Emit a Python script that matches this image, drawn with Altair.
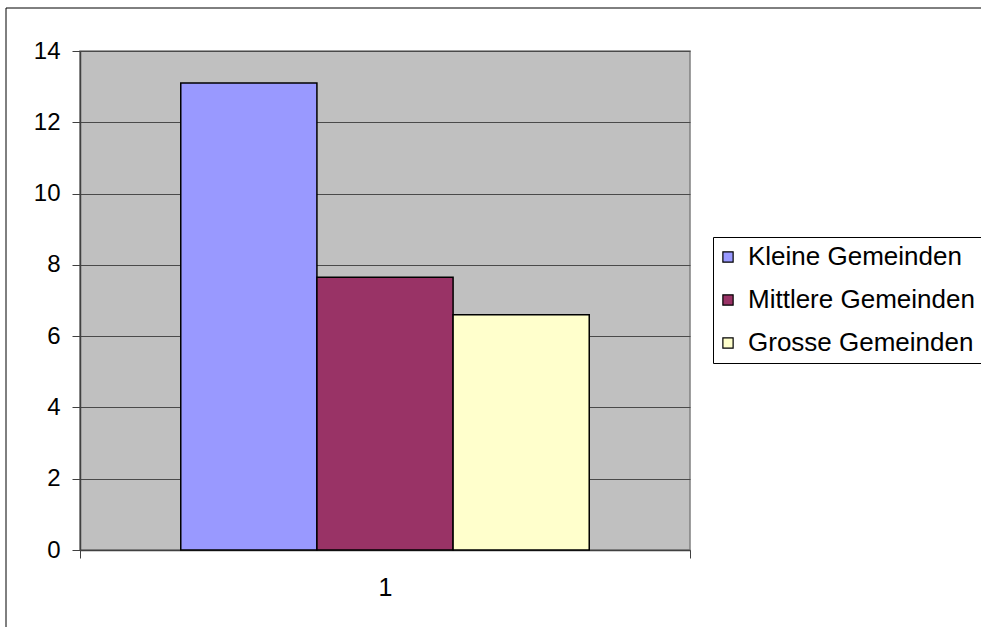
import altair as alt
import pandas as pd

# Chart data
groups = ["Kleine Gemeinden", "Mittlere Gemeinden", "Grosse Gemeinden"]
values = [13.1, 7.65, 6.6]
category = ["1", "1", "1"]
colors = ["#9999FF", "#993366", "#FFFFCC"]
y_ticks = [0, 2, 4, 6, 8, 10, 12, 14]

df = pd.DataFrame({"Kategorie": category, "Gruppe": groups, "Wert": values})

FONT = "Liberation Sans"

bars = alt.Chart(df).mark_bar(stroke="black", strokeWidth=1.5).encode(
    x=alt.X(
        "Kategorie:N",
        scale=alt.Scale(paddingInner=0, paddingOuter=0),
        axis=alt.Axis(
            title=None, labelAngle=0, labelFontSize=25, labelFont=FONT,
            labelColor="black", labelPadding=17, tickBand="extent",
            tickSize=8, tickColor="#404040", domainColor="#404040",
            domainWidth=1.5, grid=False,
        ),
    ),
    xOffset=alt.XOffset(
        "Gruppe:N", sort=groups,
        scale=alt.Scale(paddingOuter=0.74, paddingInner=0),
    ),
    y=alt.Y(
        "Wert:Q",
        scale=alt.Scale(domain=[0, 14], nice=False),
        axis=alt.Axis(
            title=None, values=y_ticks, labelFontSize=24, labelFont=FONT,
            labelColor="black", labelPadding=12, tickSize=8,
            tickColor="#404040", domainColor="#404040", domainWidth=1.5,
            grid=True, gridColor="#4a4a4a", gridWidth=1,
        ),
    ),
    color=alt.Color(
        "Gruppe:N", sort=groups,
        scale=alt.Scale(domain=groups, range=colors),
        legend=alt.Legend(
            title=None, orient="none", legendX=633, legendY=186,
            fillColor="white", strokeColor="black", padding=7,
            symbolType="square", symbolSize=105, symbolStrokeColor="black",
            symbolStrokeWidth=1.2, symbolOpacity=1, symbolOffset=-5,
            labelFontSize=26, labelFont=FONT, labelColor="black",
            labelLimit=400, rowPadding=17, labelOffset=7,
        ),
    ),
)

# Outer chart frame
frame = alt.Chart(pd.DataFrame({"f": [0]})).mark_rect(
    fillOpacity=0, stroke="black", strokeWidth=1
).encode(
    x=alt.value(-74), x2=alt.value(1000),
    y=alt.value(-43), y2=alt.value(700),
)

chart = alt.layer(frame, bars).properties(
    width=610, height=499,
    autosize=alt.AutoSizeParams(type="none"),
    padding={"left": 80, "top": 51, "right": 291, "bottom": 77},
    background="white",
).configure_view(
    fill="#C0C0C0", stroke="#808080", strokeWidth=1.5
)

chart.save("out.html", embed_options={"renderer": "svg", "actions": False})
